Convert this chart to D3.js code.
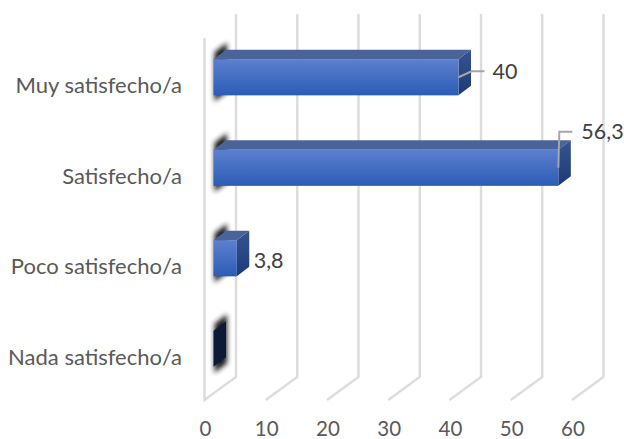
<!DOCTYPE html>
<html><head><meta charset="utf-8">
<script src="https://cdn.jsdelivr.net/npm/d3@7"></script>
<style>html,body{margin:0;padding:0;background:#fff}svg{display:block}text{font-family:Lato,"Open Sans",sans-serif;fill:#404040}</style>
</head><body><svg id="c" width="624" height="439"></svg>
<script>
const categories = ["Muy satisfecho/a","Satisfecho/a","Poco satisfecho/a","Nada satisfecho/a"];
const values = [40,56.3,3.8,0];
const valueLabels = ["40","56,3","3,8",""];
const tickValues = [0,10,20,30,40,50,60];

const svg = d3.select("#c");
const x = d3.scaleLinear().domain([0,60]).range([204.5,572]);
const y = d3.scaleBand().domain(categories).range([32,394]).paddingInner(0.6).paddingOuter(0.3);
const barOffset = 9, barDx = 12.5, barDy = -9.5;
const wallDx = 31.5, wallDy = -23;
const floorY = 400, topY = 14;

const defs = svg.append("defs");
const gf = defs.append("linearGradient").attr("id","front").attr("x1",0).attr("y1",0).attr("x2",0).attr("y2",1);
gf.append("stop").attr("offset","0%").attr("stop-color","#5c80ce");
gf.append("stop").attr("offset","100%").attr("stop-color","#2b5cb6");
const gs = defs.append("linearGradient").attr("id","side").attr("x1",0).attr("y1",0).attr("x2",0).attr("y2",1);
gs.append("stop").attr("offset","0%").attr("stop-color","#36558f");
gs.append("stop").attr("offset","100%").attr("stop-color","#1c3a78");
defs.append("filter").attr("id","blur").attr("x","-80%").attr("y","-30%").attr("width","260%").attr("height","160%")
  .append("feGaussianBlur").attr("stdDeviation",2.6);

const grid = "#dcdcdc";
const poly = pts => pts.map(p=>p.join(",")).join(" ");

svg.append("polyline").attr("fill","none").attr("stroke",grid).attr("stroke-width",2.4)
  .attr("points",poly([[x(0),38],[x(0),floorY],[x(0)+wallDx,floorY+wallDy],[x(0)+wallDx,topY]]));
svg.append("g").selectAll("polyline").data(tickValues.slice(1)).join("polyline")
  .attr("fill","none").attr("stroke",grid).attr("stroke-width",2.4)
  .attr("points",d=>poly([[x(d),floorY],[x(d)+wallDx,floorY+wallDy],[x(d)+wallDx,topY]]));

svg.append("g").selectAll("polygon").data(categories).join("polygon")
  .attr("fill","#1a1a1a").attr("filter","url(#blur)")
  .attr("points",d=>{const l=x(0)+barOffset+1,t=y(d)-7,b=y(d)+y.bandwidth()+6;
    return poly([[l,t],[l+barDx,t+barDy],[l+barDx,b+barDy],[l,b]]);});

const bars = svg.append("g").selectAll("g").data(categories).join("g");
const L = x(0)+barOffset;
const R = i => L + x(values[i]) - x(0);
bars.filter((d,i)=>values[i]>0).append("polygon").attr("fill","#4a6499")
  .attr("points",d=>{const i=categories.indexOf(d),t=y(d);
    return poly([[L,t],[L+barDx,t+barDy],[R(i)+barDx,t+barDy],[R(i),t]]);});
bars.append("polygon").attr("fill",(d,i)=>values[i]>0?"url(#side)":"#0c1a38")
  .attr("points",d=>{const i=categories.indexOf(d),t=y(d),b=t+y.bandwidth();
    return poly([[R(i),t],[R(i)+barDx,t+barDy],[R(i)+barDx,b+barDy],[R(i),b]]);});
bars.filter((d,i)=>values[i]>0).append("rect").attr("fill","url(#front)")
  .attr("x",L).attr("y",d=>y(d)).attr("width",d=>R(categories.indexOf(d))-L).attr("height",y.bandwidth());

const leaderStroke = "#a6a6a6";
const cy = d => y(d)+y.bandwidth()/2;
svg.append("polyline").attr("fill","none").attr("stroke",leaderStroke).attr("stroke-width",2)
  .attr("points",poly([[R(0),cy(categories[0])],[R(0)+13,cy(categories[0])-6],[R(0)+26,cy(categories[0])-6]]));
svg.append("polyline").attr("fill","none").attr("stroke",leaderStroke).attr("stroke-width",2)
  .attr("points",poly([[R(1),cy(categories[1])],[R(1)+1,cy(categories[1])-36],[R(1)+14,cy(categories[1])-36]]));

const labelPos = [[R(0)+34,cy(categories[0])-6],[R(1)+23,cy(categories[1])-36],[R(2)+17,cy(categories[2])+2]];
svg.append("g").selectAll("text").data(valueLabels.slice(0,3)).join("text")
  .attr("x",(d,i)=>labelPos[i][0]).attr("y",(d,i)=>labelPos[i][1]).attr("dy","0.35em")
  .attr("font-size",21.5).text(d=>d);

svg.append("g").selectAll("text").data(categories).join("text")
  .attr("x",182).attr("y",d=>cy(d)+8.5).attr("dy","0.35em").attr("text-anchor","end")
  .attr("font-size",22).style("fill","#595959").text(d=>d);

svg.append("g").selectAll("text").data(tickValues).join("text")
  .attr("x",d=>x(d)+1).attr("y",429).attr("dy","0.35em").attr("text-anchor","middle")
  .attr("font-size",20.5).style("fill","#595959").text(d=>d);
</script></body></html>
